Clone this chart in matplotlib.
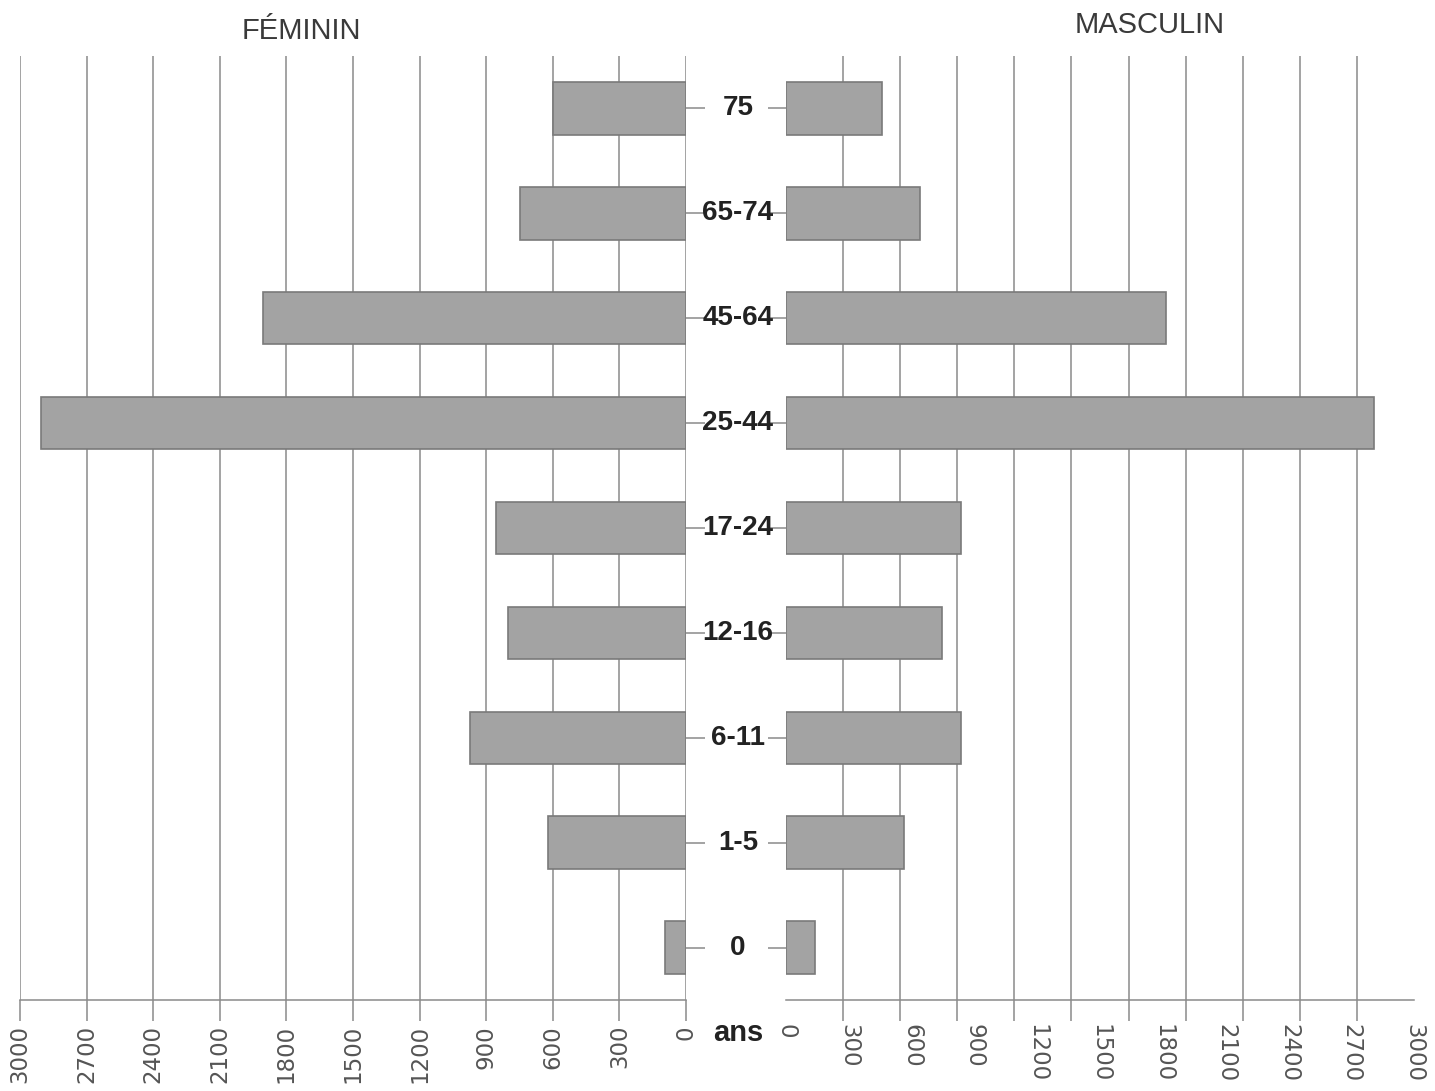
import numpy as np
import matplotlib
matplotlib.use('Agg')
import matplotlib.pyplot as plt
import matplotlib.transforms as mtransforms

# Age groups, bottom to top
ages = ['0', '1-5', '6-11', '12-16', '17-24', '25-44', '45-64', '65-74', '75']
feminin = [95, 620, 975, 800, 855, 2905, 1905, 750, 600]
masculin = [140, 565, 835, 745, 835, 2810, 1815, 640, 460]
x_ticks = list(range(0, 3001, 300))

bar_color = '#a3a3a3'
edge_color = '#7a7a7a'
grid_color = '#8a8a8a'
text_color = '#3a3a3a'

fig = plt.figure(figsize=(14.35, 10.91), dpi=100)
W, H = 1435, 1091
top_px, bot_px = 56, 1000
ax_f = fig.add_axes([20 / W, (H - bot_px) / H, 666 / W, (bot_px - top_px) / H])
ax_m = fig.add_axes([786 / W, (H - bot_px) / H, 628 / W, (bot_px - top_px) / H])

y = np.arange(len(ages))

# Left side: women
ax_f.barh(y, feminin, height=0.5, color=bar_color, edgecolor=edge_color, linewidth=1.2, zorder=3)
ax_f.set_xlim(3000, 0)
ax_f.set_ylim(-0.5, len(ages) - 0.5)
ax_f.set_xticks(x_ticks)
ax_f.set_xticklabels([str(v) for v in x_ticks], rotation=90, fontsize=16.5, color='#555555')
ax_f.grid(axis='x', color=grid_color, linewidth=1.1, zorder=0)
ax_f.tick_params(axis='x', direction='out', length=15, width=1.1, color=grid_color, pad=3)
ax_f.yaxis.tick_right()
ax_f.set_yticks(y)
ax_f.set_yticklabels([])
ax_f.tick_params(axis='y', direction='out', length=14, width=1.1, color=grid_color)

# Right side: men (grid lines drawn on 11 intervals like the original)
ax_m.barh(y, masculin, height=0.5, color=bar_color, edgecolor=edge_color, linewidth=1.2, zorder=3)
ax_m.set_xlim(0, 3000)
ax_m.set_ylim(-0.5, len(ages) - 0.5)
ax_m.set_xticks(x_ticks)
ax_m.set_xticklabels([str(v) for v in x_ticks], rotation=-90, fontsize=16.5, color='#555555')
ax_m.set_xticks(np.linspace(0, 3000, 12), minor=True)
ax_m.grid(axis='x', which='minor', color=grid_color, linewidth=1.1, zorder=0)
ax_m.tick_params(axis='x', which='major', length=0, pad=17)
ax_m.tick_params(axis='x', which='minor', direction='out', length=15, width=1.1, color=grid_color)
ax_m.set_yticks(y)
ax_m.set_yticklabels([])
ax_m.tick_params(axis='y', direction='out', length=13, width=1.1, color=grid_color)

for ax in (ax_f, ax_m):
    for side in ('top', 'left', 'right'):
        ax.spines[side].set_visible(False)
    ax.spines['bottom'].set_color(grid_color)
    ax.spines['bottom'].set_linewidth(1.1)

# Age labels in the central column
trans = mtransforms.blended_transform_factory(fig.transFigure, ax_m.transData)
for yi, label in zip(y, ages):
    fig.text(738 / W, yi, label, transform=trans, ha='center', va='center',
             fontsize=20, fontweight='bold', color='#222222', family=['Liberation Sans', 'DejaVu Sans'])

fig.text(738 / W, 1 - 1033 / H, 'ans', ha='center', va='center', fontsize=21,
         fontweight='bold', color='#222222', family=['Liberation Sans', 'DejaVu Sans'])
fig.text(301 / W, 1 - 31 / H, 'FÉMININ', ha='center', va='center', fontsize=21,
         color=text_color, family=['Liberation Sans', 'DejaVu Sans'])
fig.text(1150 / W, 1 - 25 / H, 'MASCULIN', ha='center', va='center', fontsize=21,
         color=text_color, family=['Liberation Sans', 'DejaVu Sans'])

fig.savefig('out.png', dpi=100)
